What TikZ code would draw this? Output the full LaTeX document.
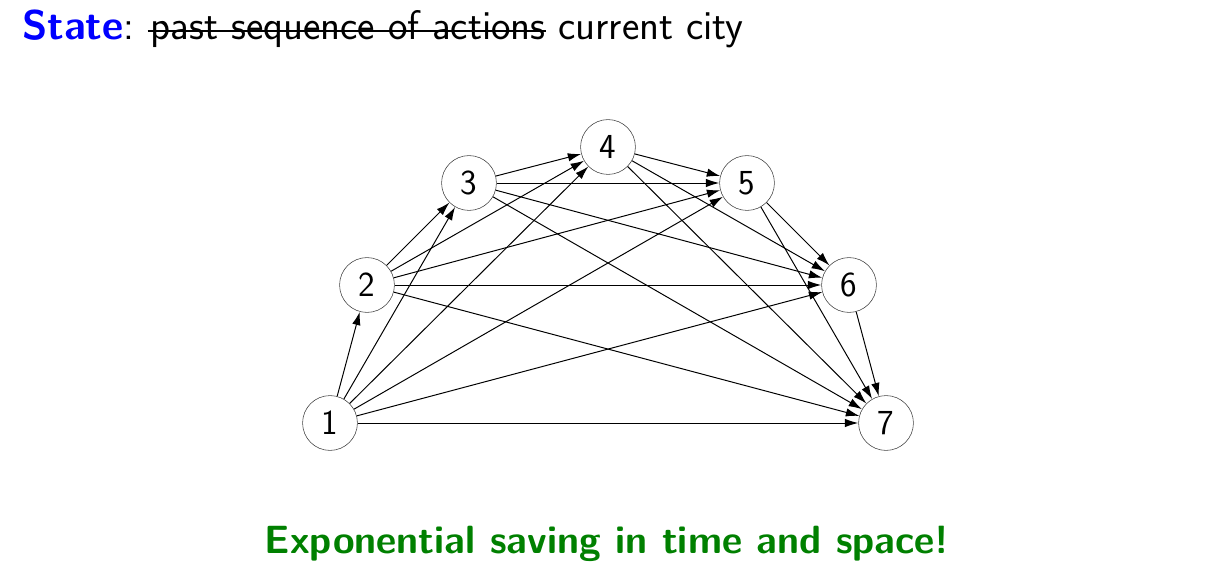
\documentclass[tikz,border=0pt]{standalone}
\usepackage{tikz}
\usetikzlibrary{arrows.meta}

\begin{document}
\begin{tikzpicture}[
  x=0.025cm, y=-0.025cm,
  city/.style={draw=black!75,circle,minimum size=39pt,inner sep=0pt,
    font=\sffamily\fontsize{25}{30}\selectfont},
  hop/.style={-{Latex[length=9.5pt,width=6pt]},line width=0.7pt},
  titletext/.style={inner sep=0pt,font=\sffamily\fontsize{29.4}{34}\selectfont}
]
\useasboundingbox (0,0) rectangle (1207,576);

\node[titletext,anchor=base west] (state) at (22,39.5)
  {\textcolor{blue}{\bfseries State}:};
\node[titletext,anchor=base west,xshift=11pt] (past) at (state.base east)
  {past sequence of actions};
\node[titletext,anchor=base west,xshift=8.5pt] (city) at (past.base east)
  {current city};
% strike-through
\draw[line width=1pt] ([yshift=6pt,xshift=-2pt]past.base west) -- ([yshift=6pt]past.base east);

\node[city] (n1) at (330,423) {1};
\node[city] (n2) at (367,285) {2};
\node[city] (n3) at (469,183) {3};
\node[city] (n4) at (608,147) {4};
\node[city] (n5) at (747,183) {5};
\node[city] (n6) at (849,285) {6};
\node[city] (n7) at (886,423) {7};

\path (n1) edge[hop] (n2) (n1) edge[hop] (n3) (n1) edge[hop] (n4)
(n1) edge[hop] (n5) (n1) edge[hop] (n6) (n1) edge[hop] (n7);
\path (n2) edge[hop] (n3) (n2) edge[hop] (n4) (n2) edge[hop] (n5)
(n2) edge[hop] (n6) (n2) edge[hop] (n7);
\path (n3) edge[hop] (n4) (n3) edge[hop] (n5) (n3) edge[hop] (n6)
(n3) edge[hop] (n7);
\path (n4) edge[hop] (n5) (n4) edge[hop] (n6) (n4) edge[hop] (n7);
\path (n5) edge[hop] (n6) (n5) edge[hop] (n7);
\path (n6) edge[hop] (n7);

\node[anchor=base,font=\sffamily\bfseries\fontsize{28}{33}\selectfont,text=green!50!black]
  (saving) at (607,553) {Exponential saving in time and space!};

\end{tikzpicture}
\end{document}
